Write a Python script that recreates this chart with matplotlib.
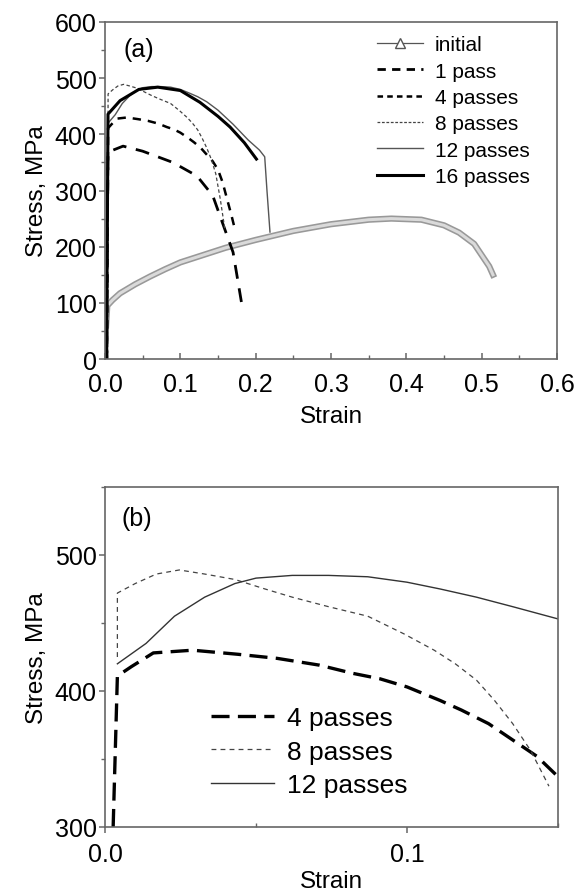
import numpy as np
import matplotlib
matplotlib.use("Agg")
import matplotlib.pyplot as plt
import matplotlib.patheffects as pe
from matplotlib.lines import Line2D
from matplotlib.ticker import MultipleLocator, FormatStrFormatter

plt.rcParams['font.family'] = ['Liberation Sans', 'DejaVu Sans']
plt.rcParams['lines.scale_dashes'] = False

# ---- panel (a) data: strain, stress (MPa) ----
init_x = [0.0, 0.001, 0.003, 0.01, 0.02, 0.04, 0.06, 0.08, 0.10, 0.13, 0.16, 0.20,
          0.25, 0.30, 0.35, 0.38, 0.42, 0.45, 0.47, 0.49, 0.50, 0.51, 0.515]
init_y = [0, 50, 95, 105, 117, 133, 147, 160, 172, 185, 198, 212,
          228, 240, 248, 250, 248, 238, 225, 205, 185, 165, 150]

p1_x = [0.002, 0.004, 0.009, 0.024, 0.05, 0.09, 0.122, 0.143, 0.159, 0.170, 0.183]
p1_y = [0, 368, 371, 379, 370, 350, 326, 291, 231, 190, 86]

p4_x = [0.0027, 0.0041, 0.0088, 0.016, 0.029, 0.044, 0.057, 0.071, 0.082, 0.091, 0.10,
        0.111, 0.118, 0.127, 0.135, 0.143, 0.150, 0.156, 0.162, 0.168, 0.173]
p4_y = [0, 411, 418, 428, 430, 427, 424, 419, 413, 409, 403,
        393, 386, 376, 364, 352, 337, 315, 285, 255, 228]

p8_x = [0.0035, 0.0041, 0.01, 0.017, 0.0246, 0.033, 0.043, 0.053, 0.062, 0.074, 0.087,
        0.099, 0.109, 0.116, 0.123, 0.129, 0.135, 0.141, 0.147, 0.153, 0.159]
p8_y = [0, 472, 479, 486, 489, 486, 482, 475, 469, 462, 455,
        442, 430, 420, 408, 393, 376, 356, 330, 285, 232]

p12_x = [0.0025, 0.0041, 0.0136, 0.023, 0.033, 0.043, 0.05, 0.062, 0.074, 0.087, 0.10,
         0.111, 0.123, 0.135, 0.15, 0.17, 0.19, 0.205, 0.212, 0.215, 0.219]
p12_y = [0, 420, 435, 455, 469, 479, 483, 485, 485, 484, 480,
         474, 467, 458, 443, 418, 390, 372, 360, 300, 226]

p16_x = [0.002, 0.004, 0.02, 0.045, 0.07, 0.10, 0.126, 0.15, 0.166, 0.185, 0.201]
p16_y = [0, 436, 460, 480, 484, 478, 457, 432, 413, 385, 356]

# ---- panel (b) data (zoom) ----
b4_x = [0.0027, 0.0041, 0.0088, 0.016, 0.029, 0.044, 0.057, 0.071, 0.082, 0.091, 0.10,
        0.111, 0.118, 0.127, 0.135, 0.143, 0.150]
b4_y = [300, 411, 418, 428, 430, 427, 424, 419, 413, 409, 403,
        393, 386, 376, 364, 352, 337]

b8_x = [0.0041, 0.0041, 0.01, 0.017, 0.0246, 0.033, 0.043, 0.053, 0.062, 0.074, 0.087,
        0.099, 0.109, 0.116, 0.123, 0.129, 0.135, 0.141, 0.147]
b8_y = [425, 472, 479, 486, 489, 486, 482, 475, 469, 462, 455,
        442, 430, 420, 408, 393, 376, 356, 330]

b12_x = [0.0041, 0.0136, 0.023, 0.033, 0.043, 0.05, 0.062, 0.074, 0.087, 0.10,
         0.111, 0.123, 0.135, 0.15]
b12_y = [420, 435, 455, 469, 479, 483, 485, 485, 484, 480,
         475, 469, 462, 453]

spine_col = '#666666'

fig = plt.figure(figsize=(5.77, 8.95), dpi=100)

def style_axes(ax, xdir, xpad, ydir_major, ydir_minor, xdir_minor):
    for s in ax.spines.values():
        s.set_color(spine_col)
        s.set_linewidth(1.2)
    ax.tick_params(axis='x', which='major', direction=xdir, length=4, width=1.1,
                   color=spine_col, labelsize=18, pad=xpad)
    ax.tick_params(axis='x', which='minor', direction=xdir_minor, length=3, width=1.0,
                   color=spine_col)
    ax.tick_params(axis='y', which='major', direction=ydir_major, length=4, width=1.1,
                   color=spine_col, labelsize=18, pad=2)
    ax.tick_params(axis='y', which='minor', direction=ydir_minor, length=3, width=1.0,
                   color=spine_col)

# ---------------- (a) ----------------
ax1 = fig.add_axes([105/577, 1 - 360/895, 452/577, 337/895])
ax1.plot(init_x, init_y, color='#dadada', lw=2.2,
         path_effects=[pe.Stroke(linewidth=4.5, foreground='#999999'), pe.Normal()])
ax1.plot(p1_x, p1_y, color='black', lw=2.0, dashes=(10, 7))
ax1.plot(p4_x, p4_y, color='black', lw=1.8, dashes=(6, 5))
ax1.plot(p8_x, p8_y, color='#444444', lw=0.9, dashes=(2.5, 1.8))
ax1.plot(p12_x, p12_y, color='#555555', lw=1.0)
ax1.plot(p16_x, p16_y, color='black', lw=2.2)

ax1.set_xlim(0, 0.6)
ax1.set_ylim(0, 600)
ax1.xaxis.set_major_locator(MultipleLocator(0.1))
ax1.xaxis.set_minor_locator(MultipleLocator(0.05))
ax1.yaxis.set_major_locator(MultipleLocator(100))
ax1.yaxis.set_minor_locator(MultipleLocator(50))
ax1.xaxis.set_major_formatter(FormatStrFormatter('%.1f'))
style_axes(ax1, 'in', 9, 'out', 'out', 'in')
ax1.set_xlabel('Strain', fontsize=17.5, labelpad=7)
ax1.set_ylabel('Stress, MPa', fontsize=17.5, labelpad=5)
ax1.text(0.04, 0.92, '(a)', transform=ax1.transAxes, fontsize=18, va='center')

handles_a = [
    Line2D([], [], color='#555555', lw=0.9, marker='^', markersize=7,
           markerfacecolor='white', markeredgecolor='#555555'),
    Line2D([], [], color='black', lw=2.0, dashes=(6, 4.5)),
    Line2D([], [], color='black', lw=1.8, dashes=(4, 3)),
    Line2D([], [], color='#444444', lw=0.9, dashes=(2, 1.2)),
    Line2D([], [], color='#555555', lw=1.0),
    Line2D([], [], color='black', lw=2.2),
]
labels_a = ['initial', '1 pass', '4 passes', '8 passes', '12 passes', '16 passes']
ax1.legend(handles_a, labels_a, loc='upper left', bbox_to_anchor=(0.602, 0.96),
           frameon=False, fontsize=15, handlelength=2.2, handletextpad=0.58,
           labelspacing=0.35, borderpad=0, borderaxespad=0)

# ---------------- (b) ----------------
ax2 = fig.add_axes([105/577, 1 - 828/895, 453/577, 340/895])
ax2.plot(b4_x, b4_y, color='black', lw=2.4, dashes=(13, 6), label='4 passes')
ax2.plot(b8_x, b8_y, color='#444444', lw=0.9, dashes=(3.5, 3), label='8 passes')
ax2.plot(b12_x, b12_y, color='#333333', lw=1.0, label='12 passes')

ax2.set_xlim(0, 0.15)
ax2.set_ylim(300, 550)
ax2.set_xticks([0.0, 0.1])
ax2.xaxis.set_minor_locator(MultipleLocator(0.05))
ax2.set_yticks([300, 400, 500])
ax2.yaxis.set_minor_locator(MultipleLocator(50))
ax2.xaxis.set_major_formatter(FormatStrFormatter('%.1f'))
style_axes(ax2, 'out', 7, 'out', 'out', 'in')
ax2.set_xlabel('Strain', fontsize=17.5, labelpad=3)
ax2.set_ylabel('Stress, MPa', fontsize=17.5, labelpad=5)
ax2.text(0.037, 0.91, '(b)', transform=ax2.transAxes, fontsize=18, va='center')
ax2.legend(loc='upper left', bbox_to_anchor=(0.233, 0.355), frameon=False,
           fontsize=19, handlelength=2.4, handletextpad=0.5, labelspacing=0.35,
           borderpad=0, borderaxespad=0)

fig.savefig('out.png', dpi=100)
